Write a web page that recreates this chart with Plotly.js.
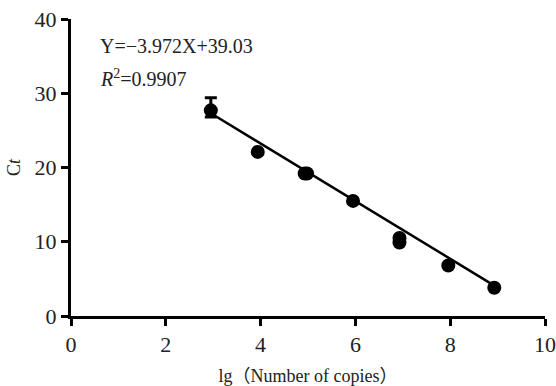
<!DOCTYPE html>
<html>
<head>
<meta charset="utf-8">
<script src="https://cdn.plot.ly/plotly-3.0.1.min.js"></script>
<style>html,body{margin:0;padding:0;background:#fff;}#chart{width:556px;height:386px;}</style>
</head>
<body>
<div id="chart"></div>
<script>
// Data
const lgCopies = [2.95, 3.94, 4.93, 4.98, 5.95, 6.93, 6.93, 7.96, 8.93];
const ctValues = [27.7, 22.1, 19.2, 19.2, 15.5, 10.5, 9.9, 6.8, 3.8];
const errPlus  = [1.7, 0, 0, 0, 0, 0, 0, 0, 0];
const errMinus = [0.9, 0, 0, 0, 0, 0, 0, 0, 0];
const fitX = [2.95, 8.93];
const fitY = [27.3, 4.1];
const xTicks = [0, 2, 4, 6, 8, 10];
const yTicks = [0, 10, 20, 30, 40];
const equationText = 'Y=−3.972X+39.03';
const r2Text = '<i>R</i><sup>2</sup>=0.9907';
const xTitle = 'lg（Number of copies）';
const yTitle = 'C<i>t</i>';

const serif = "Liberation Serif";
const titleFamily = "Liberation Serif, Noto Sans CJK SC";

const traces = [
  {
    x: fitX, y: fitY, mode: 'lines', type: 'scatter',
    line: {color: '#000', width: 2.5}, hoverinfo: 'skip', showlegend: false
  },
  {
    x: lgCopies, y: ctValues, mode: 'markers', type: 'scatter',
    marker: {color: '#000', size: 14, symbol: 'circle'},
    error_y: {type: 'data', symmetric: false, array: errPlus, arrayminus: errMinus,
              color: '#000', thickness: 3, width: 6},
    showlegend: false
  }
];

const layout = {
  width: 556, height: 386,
  margin: {l: 71, r: 11, t: 19, b: 70},
  paper_bgcolor: '#fff', plot_bgcolor: '#fff',
  font: {family: serif, color: '#222', size: 19},
  showlegend: false,
  xaxis: {
    range: [0, 10], tickmode: 'array', tickvals: xTicks,
    showline: true, linewidth: 3, linecolor: '#000', mirror: false,
    ticks: 'outside', ticklen: 7, tickwidth: 3, tickcolor: '#000',
    showgrid: false, zeroline: false,
    tickfont: {family: serif, size: 22, color: '#222'},
    title: {text: xTitle, font: {family: titleFamily, size: 18, color: '#222'}, standoff: 13}
  },
  yaxis: {
    range: [0, 40], tickmode: 'array', tickvals: yTicks,
    showline: true, linewidth: 3, linecolor: '#000', mirror: false,
    ticks: 'outside', ticklen: 7, tickwidth: 3, tickcolor: '#000',
    showgrid: false, zeroline: false,
    tickfont: {family: serif, size: 22, color: '#222'},
    title: {text: yTitle, font: {family: serif, size: 18, color: '#222'}, standoff: 10}
  },
  annotations: [
    {x: 0.57, y: 36.4, xref: 'x', yref: 'y', xanchor: 'left', yanchor: 'middle',
     text: equationText, showarrow: false, font: {family: serif, size: 20, color: '#222'}},
    {x: 0.57, y: 32.1, xref: 'x', yref: 'y', xanchor: 'left', yanchor: 'middle',
     text: r2Text, showarrow: false, font: {family: serif, size: 20, color: '#222'}}
  ]
};

Plotly.newPlot('chart', traces, layout, {displayModeBar: false, staticPlot: true});
</script>
</body>
</html>
